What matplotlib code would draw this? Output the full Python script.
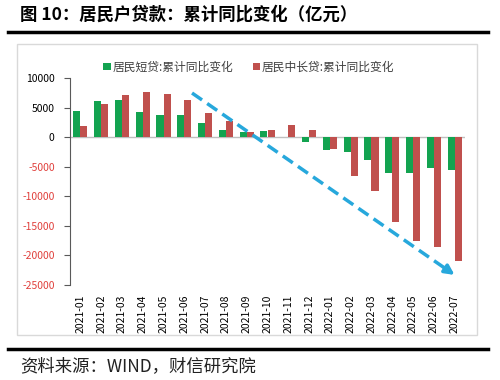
import matplotlib
matplotlib.use("Agg")
import matplotlib.pyplot as plt
import numpy as np
from matplotlib.lines import Line2D
from matplotlib.patches import Rectangle

plt.rcParams['font.family'] = ['Noto Sans CJK SC', 'DejaVu Sans']

categories = ["2021-01", "2021-02", "2021-03", "2021-04", "2021-05", "2021-06",
              "2021-07", "2021-08", "2021-09", "2021-10", "2021-11", "2021-12",
              "2022-01", "2022-02", "2022-03", "2022-04", "2022-05", "2022-06",
              "2022-07"]
short_loans = [4370, 6170, 6220, 4320, 3700, 3810, 2420, 1130, 950, 1070, 0, -840,
               -2240, -2520, -3870, -6100, -6100, -5260, -5600]
long_loans = [1850, 5600, 7060, 7630, 7340, 6220, 4100, 2800, 900, 1290, 2020, 1240,
              -2070, -6550, -9080, -14290, -17580, -18590, -21000]
series_names = ["居民短贷:累计同比变化", "居民中长贷:累计同比变化"]
yticks = [10000, 5000, 0, -5000, -10000, -15000, -20000, -25000]
trend_start = (5.37, 7460)
trend_end = (18.0, -23300)

title = "图 10：居民户贷款：累计同比变化（亿元）"
source = "资料来源：WIND，财信研究院"

green = "#13a350"
red = "#c0504d"
blue = "#27a8dc"

fig = plt.figure(figsize=(5, 3.8), dpi=100)
W, H = 500, 380

def fx(px):
    return px / W

def fy(py):
    return 1 - py / H

# frame
fig.add_artist(Rectangle((fx(17), fy(335)), fx(477) - fx(17), fy(44) - fy(335),
                         transform=fig.transFigure, fill=False, edgecolor="#d9d9d9", lw=1))
# title and rules
fig.text(fx(20), fy(15), title, fontsize=12.5, fontweight="bold", va="center", ha="left")
fig.add_artist(Line2D([fx(8), fx(488)], [fy(32), fy(32)], transform=fig.transFigure,
                      color="black", lw=2.5))
fig.add_artist(Line2D([fx(8), fx(488)], [fy(349), fy(349)], transform=fig.transFigure,
                      color="black", lw=2.5))
fig.text(fx(20), fy(366), source, fontsize=12.5, style="italic", va="center", ha="left",
         color="#222222")

ax = fig.add_axes([fx(70), fy(285), fx(465) - fx(70), fy(78) - fy(285)])
x = np.arange(len(categories))
bw = 0.34
ax.bar(x - bw / 2, short_loans, width=bw, color=green, label=series_names[0], zorder=2)
ax.bar(x + bw / 2, long_loans, width=bw, color=red, label=series_names[1], zorder=2)
ax.axhline(0, color="#bfbfbf", lw=1, zorder=1)

ax.set_xlim(-0.5, len(categories) - 0.5)
ax.set_ylim(-25000, 10000)
ax.set_yticks(yticks)
ax.set_yticklabels([str(v) for v in yticks])
for lab, v in zip(ax.get_yticklabels(), yticks):
    lab.set_color("#e0403c" if v < 0 else "black")
ax.tick_params(axis="y", labelsize=7.5, length=4, direction="out", color="#595959", pad=7)
ax.set_xticks(x)
ax.set_xticklabels(categories, rotation=90, fontsize=7.5)
ax.tick_params(axis="x", length=0, pad=7)
for s in ["top", "right", "bottom"]:
    ax.spines[s].set_visible(False)
ax.spines["left"].set_color("#595959")

# trend arrow
sx, sy = trend_start
ex, ey = trend_end
frac = 0.96
mx, my = sx + (ex - sx) * frac, sy + (ey - sy) * frac
ax.plot([sx, mx], [sy, my], linestyle=(0, (3.5, 1.8)), color=blue, lw=2.5, zorder=3)
ax.annotate("", xy=(ex, ey), xytext=(mx, my),
            arrowprops=dict(arrowstyle="-|>", color=blue, lw=2.5, mutation_scale=14,
                            shrinkA=0, shrinkB=0), zorder=3)

leg = fig.legend(loc="center", bbox_to_anchor=(fx(249), fy(67)), ncol=2, frameon=False,
                 fontsize=8.5, handlelength=0.6, handleheight=0.6, handletextpad=0.2,
                 columnspacing=1.6)
for t in leg.get_texts():
    t.set_color("#404040")

fig.savefig("out.png", dpi=100)
